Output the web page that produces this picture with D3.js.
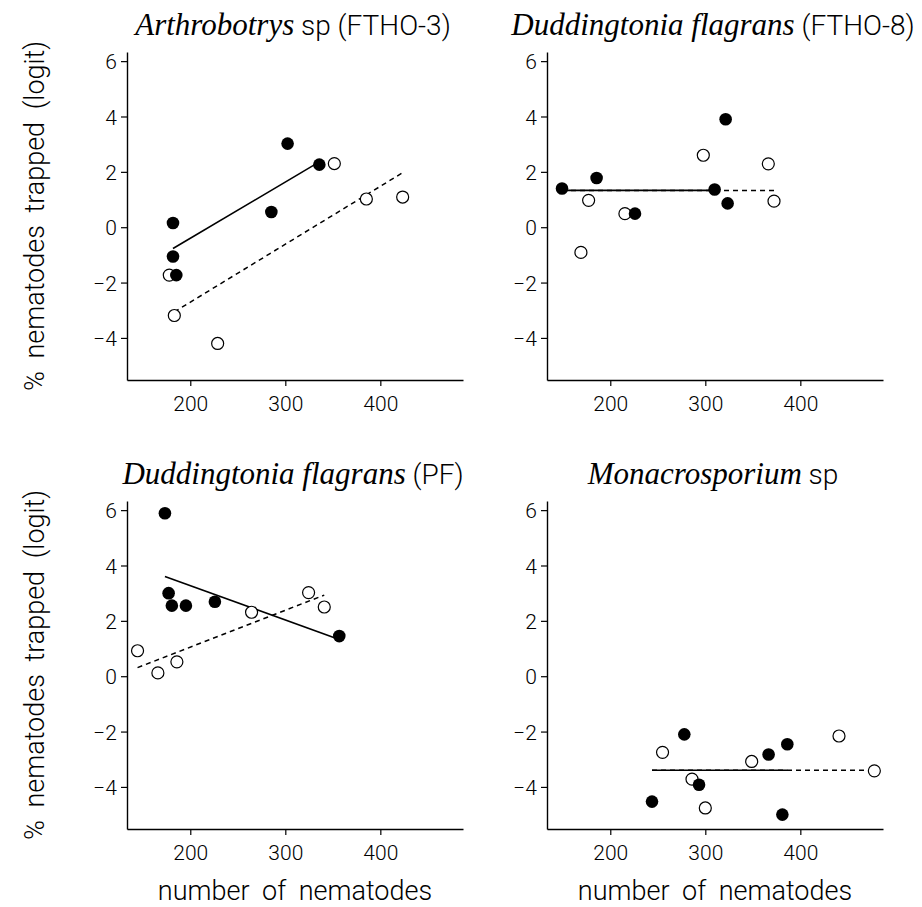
<!DOCTYPE html>
<html>
<head>
<meta charset="utf-8">
<script src="https://cdn.jsdelivr.net/npm/d3@7"></script>
<style>
  body { margin: 0; background: #fff; }
  svg { display: block; }
  .sans { font-family: Roboto, "Liberation Sans", sans-serif; font-weight: 300; }
  .ital { font-family: "Liberation Serif", "DejaVu Serif", serif; font-style: italic; }
</style>
</head>
<body>
<svg id="chart" width="922" height="907"></svg>
<script>
// ---------- data ----------
const xTicks = [200, 300, 400];
const yTicks = [-4, -2, 0, 2, 4, 6];
const xLabel = "number of nematodes";
const yLabel = "% nematodes trapped (logit)";

// Panel 1: Arthrobotrys sp (FTHO-3)
const p1FilledX = [181.8, 181.8, 185.3, 285.3, 302.4, 335.8];
const p1FilledY = [0.15, -1.06, -1.73, 0.55, 3.02, 2.26];
const p1OpenX   = [177.9, 183.2, 228.8, 351.6, 385.3, 423.5];
const p1OpenY   = [-1.73, -3.19, -4.20, 2.30, 1.02, 1.09];
const p1SolidFit  = [[181.8, -0.77], [335.8, 2.36]];
const p1DashedFit = [[183.2, -3.06], [423.5, 1.97]];

// Panel 2: Duddingtonia flagrans (FTHO-8)
const p2FilledX = [149.2, 185.6, 226.0, 309.8, 321.4, 323.5];
const p2FilledY = [1.40, 1.78, 0.49, 1.36, 3.90, 0.86];
const p2OpenX   = [169.1, 177.2, 215.4, 297.9, 366.3, 372.3];
const p2OpenY   = [-0.91, 0.97, 0.49, 2.60, 2.29, 0.94];
const p2SolidFit  = [[149.2, 1.33], [309.8, 1.33]];
const p2DashedFit = [[149.2, 1.33], [372.3, 1.33]];

// Panel 3: Duddingtonia flagrans (PF)
const p3FilledX = [173.3, 177.2, 180.6, 195.4, 225.9, 356.8];
const p3FilledY = [5.89, 3.00, 2.55, 2.55, 2.69, 1.45];
const p3OpenX   = [144.5, 165.9, 185.9, 264.5, 324.5, 341.0];
const p3OpenY   = [0.92, 0.12, 0.52, 2.31, 3.02, 2.50];
const p3SolidFit  = [[173.3, 3.60], [356.8, 1.33]];
const p3DashedFit = [[144.5, 0.31], [341.0, 2.93]];

// Panel 4: Monacrosporium sp
const p4FilledX = [243.9, 277.9, 293.4, 366.6, 386.3, 381.1];
const p4FilledY = [-4.53, -2.10, -3.92, -2.83, -2.46, -5.00];
const p4OpenX   = [255.0, 286.0, 300.0, 348.8, 440.7, 477.9];
const p4OpenY   = [-2.75, -3.72, -4.76, -3.08, -2.16, -3.42];
const p4SolidFit  = [[243.9, -3.40], [386.3, -3.40]];
const p4DashedFit = [[243.9, -3.40], [477.9, -3.40]];

const panels = [
  { italic: "Arthrobotrys", plain: " sp (FTHO-3)", fx: p1FilledX, fy: p1FilledY, ox: p1OpenX, oy: p1OpenY, solid: p1SolidFit, dashed: p1DashedFit, col: 0, row: 0 },
  { italic: "Duddingtonia flagrans", plain: " (FTHO-8)", fx: p2FilledX, fy: p2FilledY, ox: p2OpenX, oy: p2OpenY, solid: p2SolidFit, dashed: p2DashedFit, col: 1, row: 0 },
  { italic: "Duddingtonia flagrans", plain: " (PF)", fx: p3FilledX, fy: p3FilledY, ox: p3OpenX, oy: p3OpenY, solid: p3SolidFit, dashed: p3DashedFit, col: 0, row: 1 },
  { italic: "Monacrosporium", plain: " sp", fx: p4FilledX, fy: p4FilledY, ox: p4OpenX, oy: p4OpenY, solid: p4SolidFit, dashed: p4DashedFit, col: 1, row: 1 }
];

// ---------- layout ----------
const colX = [127, 547];
const rowY = [52, 501];
const plotW = 336, plotH = 328;
const xDomain = [133.4, 487];
const yDomain = [-5.52, 6.33];

const svg = d3.select("#chart");

panels.forEach(p => {
  const x0 = colX[p.col], y0 = rowY[p.row];
  const g = svg.append("g").attr("transform", `translate(${x0},${y0})`);
  const x = d3.scaleLinear().domain(xDomain).range([0, plotW]);
  const y = d3.scaleLinear().domain(yDomain).range([plotH, 0]);

  // axes
  const xAxis = d3.axisBottom(x).tickValues(xTicks).tickSizeInner(6).tickSizeOuter(0).tickPadding(6);
  const yAxis = d3.axisLeft(y).tickValues(yTicks).tickSizeInner(6).tickSizeOuter(0).tickPadding(4);
  const gx = g.append("g").attr("transform", `translate(0,${plotH})`).call(xAxis);
  const gy = g.append("g").call(yAxis);
  [gx, gy].forEach(a => {
    a.select(".domain").attr("stroke", "#000").attr("stroke-width", 1.4);
    a.selectAll(".tick line").attr("stroke", "#000").attr("stroke-width", 1.2);
    a.selectAll(".tick text").attr("class", "sans").attr("font-size", 21).attr("fill", "#000");
  });
  gx.selectAll(".tick text").attr("dy", "0.9em");
  gy.selectAll(".tick text").attr("dy", "0.36em");

  // fit lines
  const line = d3.line().x(d => x(d[0])).y(d => y(d[1]));
  g.append("path").datum(p.dashed).attr("d", line)
    .attr("fill", "none").attr("stroke", "#000").attr("stroke-width", 1.5).attr("stroke-dasharray", "5,4");
  g.append("path").datum(p.solid).attr("d", line)
    .attr("fill", "none").attr("stroke", "#000").attr("stroke-width", 1.6);

  // points
  const open = p.ox.map((v, i) => [v, p.oy[i]]);
  const filled = p.fx.map((v, i) => [v, p.fy[i]]);
  g.selectAll("circle.open").data(open).enter().append("circle")
    .attr("class", "open").attr("cx", d => x(d[0])).attr("cy", d => y(d[1])).attr("r", 6)
    .attr("fill", "#fff").attr("stroke", "#000").attr("stroke-width", 1.2);
  g.selectAll("circle.filled").data(filled).enter().append("circle")
    .attr("class", "filled").attr("cx", d => x(d[0])).attr("cy", d => y(d[1])).attr("r", 6.3)
    .attr("fill", "#000");

  // title
  const t = svg.append("text")
    .attr("x", x0 + plotW / 2 - 2).attr("y", y0 - 17)
    .attr("text-anchor", "middle").attr("fill", "#000");
  t.append("tspan").attr("class", "ital").attr("font-size", 31).text(p.italic);
  t.append("tspan").attr("class", "sans").attr("font-size", 28).attr("xml:space", "preserve").text(p.plain);

  // x label (bottom row only)
  if (p.row === 1) {
    svg.append("text").attr("class", "sans")
      .attr("x", x0 + plotW / 2).attr("y", y0 + plotH + 71)
      .attr("text-anchor", "middle").attr("font-size", 27).attr("word-spacing", 6).attr("fill", "#000")
      .text(xLabel);
  }

  // y label (left column only)
  if (p.col === 0) {
    svg.append("text").attr("class", "sans")
      .attr("transform", `translate(44,${y0 + plotH / 2}) rotate(-90)`)
      .attr("text-anchor", "middle").attr("font-size", 27).attr("word-spacing", 6).attr("fill", "#000")
      .text(yLabel);
  }
});
</script>
</body>
</html>
